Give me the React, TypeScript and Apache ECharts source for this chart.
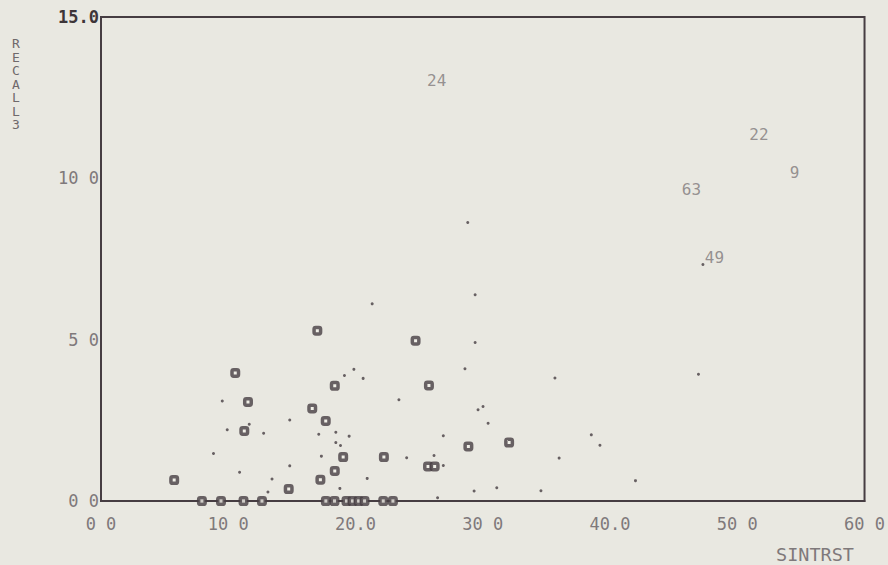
import React, { useEffect, useRef } from "react";
import * as echarts from "echarts";

// ---- data ----
const xTickLabels = ["0 0", "10 0", "20.0", "30 0", "40.0", "50 0", "60 0"];
const yTickLabels = ["0 0", "5 0", "10 0", "15.0"];

const squarePoints: [number, number][] = [
  [5.75, 0.65], [10.55, 3.97], [11.55, 3.07], [11.26, 2.17], [17.0, 5.28],
  [18.37, 3.57], [16.6, 2.87], [17.66, 2.48], [19.03, 1.36], [18.37, 0.93],
  [17.24, 0.66], [14.75, 0.37], [24.72, 4.97], [25.77, 3.58], [22.23, 1.36],
  [28.87, 1.69], [32.07, 1.81], [25.7, 1.07], [26.22, 1.07],
  [7.93, 0], [9.43, 0], [11.2, 0], [12.65, 0], [17.67, 0], [18.35, 0],
  [19.29, 0], [19.76, 0], [20.24, 0], [20.71, 0], [22.18, 0], [22.94, 0],
];

const dotPoints: [number, number][] = [
  [19.13, 3.89], [9.53, 3.1], [11.65, 2.38], [9.92, 2.21], [12.78, 2.1],
  [14.83, 2.51], [17.11, 2.07], [18.45, 2.13], [19.5, 2.01], [18.45, 1.81],
  [18.82, 1.72], [8.84, 1.47], [17.32, 1.39], [14.83, 1.09], [10.89, 0.89],
  [13.44, 0.68], [13.12, 0.28], [18.77, 0.39],
  [28.82, 8.63], [29.4, 6.39], [21.31, 6.11], [29.4, 4.91], [28.6, 4.1],
  [35.67, 3.81], [19.87, 4.08], [20.6, 3.8], [23.41, 3.14], [29.63, 2.83],
  [30.02, 2.93], [30.42, 2.41], [26.9, 2.02], [38.53, 2.05], [39.21, 1.73],
  [36.0, 1.33], [24.02, 1.34], [26.17, 1.41], [26.9, 1.1], [20.92, 0.7],
  [29.32, 0.31], [31.1, 0.41], [34.57, 0.32], [42.0, 0.63], [26.45, 0.1],
  [46.95, 3.93], [47.3, 7.33],
];

const labeledPoints: [number, number, string][] = [
  [26.38, 13.04, "24"],
  [51.7, 11.37, "22"],
  [54.5, 10.19, "9"],
  [46.4, 9.66, "63"],
  [48.2, 7.55, "49"],
];

const xAxisName = "SINTRST";
const yAxisName = "RECALL3";

const BG = "#e9e8e1";
const INK = "#463d42";
const LIGHT = "#7f797b";
const FONT = "DejaVu Sans Mono";

export default function App() {
  const ref = useRef<HTMLDivElement>(null);
  useEffect(() => {
    if (!ref.current) return;
    const chart = echarts.init(ref.current, undefined, { renderer: "svg" });
    chart.setOption({
      animation: false,
      backgroundColor: BG,
      grid: {
        left: 101,
        right: 23,
        top: 17,
        bottom: 64,
        show: true,
        borderColor: INK,
        borderWidth: 2,
        backgroundColor: BG,
      },
      xAxis: {
        type: "value",
        min: 0,
        max: 60,
        interval: 10,
        axisLine: { show: true, lineStyle: { color: INK, width: 2 } },
        axisTick: { show: false },
        splitLine: { show: false },
        axisLabel: {
          margin: 14,
          color: LIGHT,
          fontFamily: FONT,
          fontSize: 17,
          formatter: (v: number) => xTickLabels[Math.round(v / 10)] ?? "",
        },
      },
      yAxis: {
        type: "value",
        min: 0,
        max: 15,
        interval: 5,
        axisLine: { show: true, lineStyle: { color: INK, width: 2 } },
        axisTick: { show: false },
        splitLine: { show: false },
        axisLabel: {
          margin: 2,
          color: LIGHT,
          fontFamily: FONT,
          fontSize: 17,
          formatter: (v: number) => {
            const i = Math.round(v / 5);
            const t = yTickLabels[i] ?? "";
            return i === 3 ? "{b|" + t + "}" : t;
          },
          rich: {
            b: {
              color: "#3d3539",
              fontFamily: FONT,
              fontSize: 17,
              fontWeight: "bold",
            },
          },
        },
      },
      graphic: [
        {
          type: "text",
          left: 12,
          top: 37,
          style: {
            text: yAxisName.split("").join("\n"),
            font: "13px " + FONT,
            lineHeight: 13.5,
            fill: "#6f696b",
            align: "center",
          },
        },
        {
          type: "text",
          left: 776,
          top: 545,
          style: {
            text: xAxisName,
            font: "18.5px " + FONT,
            fill: LIGHT,
          },
        },
      ],
      series: [
        {
          type: "scatter",
          name: "dots",
          data: dotPoints,
          symbol: "circle",
          symbolSize: 3,
          itemStyle: { color: INK },
          z: 3,
        },
        {
          type: "scatter",
          name: "squares",
          data: squarePoints,
          symbol: "roundRect",
          symbolSize: 6.5,
          itemStyle: { color: "#f2f1ea", borderColor: INK, borderWidth: 3.5 },
          z: 4,
        },
        {
          type: "scatter",
          name: "labels",
          data: labeledPoints.map((p) => ({ value: [p[0], p[1]], name: p[2] })),
          symbolSize: 0,
          itemStyle: { color: "transparent" },
          label: {
            show: true,
            position: "inside",
            formatter: (p: any) => p.name,
            color: LIGHT,
            fontFamily: FONT,
            fontSize: 16,
          },
          z: 5,
        },
      ],
    });
    return () => chart.dispose();
  }, []);
  return (
    <div
      ref={ref}
      style={{ position: "fixed", left: 0, top: 0, width: 888, height: 565 }}
    />
  );
}
